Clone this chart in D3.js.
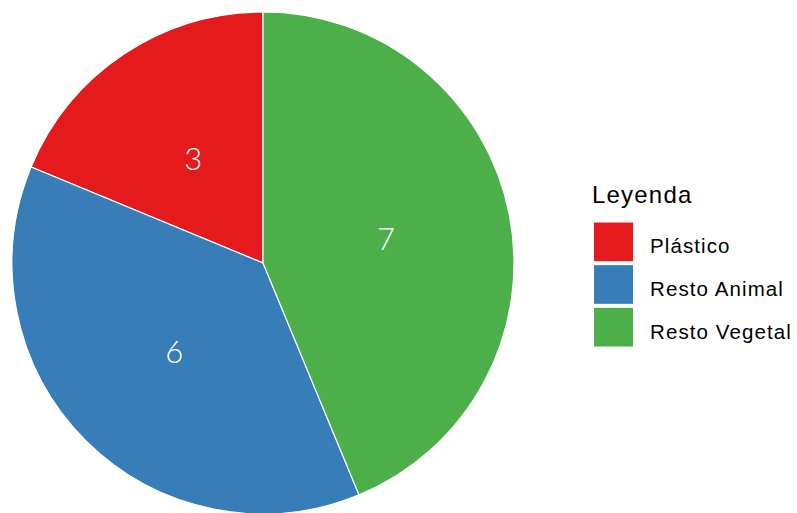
<!DOCTYPE html>
<html>
<head>
<meta charset="utf-8">
<script src="https://cdn.jsdelivr.net/npm/d3@7"></script>
<style>
  html, body { margin: 0; padding: 0; background: #ffffff; }
  svg { display: block; }
</style>
</head>
<body>
<svg id="chart" width="797" height="513"></svg>
<script>
// Waste composition counts
const categories = ["Plástico", "Resto Animal", "Resto Vegetal"];
const counts = [3, 6, 7];
const palette = ["#E41A1C", "#377EB8", "#4DAF4A"];
const legendTitle = "Leyenda";

const width = 797, height = 513;
const cx = 263, cy = 263, radius = 251;

const svg = d3.select("#chart");

const color = d3.scaleOrdinal().domain(categories).range(palette);

const rows = categories.map((c, i) => ({ category: c, value: counts[i] }));

// Slices run counterclockwise from twelve o'clock
const pie = d3.pie()
  .sort(null)
  .value(d => d.value)
  .startAngle(0)
  .endAngle(-2 * Math.PI);

const arc = d3.arc().innerRadius(0).outerRadius(radius);

const g = svg.append("g").attr("transform", `translate(${cx},${cy})`);

const arcs = pie(rows);

g.selectAll("path.slice")
  .data(arcs)
  .join("path")
  .attr("class", "slice")
  .attr("d", arc)
  .attr("fill", d => color(d.data.category))
  .attr("stroke", "#ffffff")
  .attr("stroke-width", 1.2);

// Value labels sit halfway along each slice's mid-angle
g.selectAll("text.value")
  .data(arcs)
  .join("text")
  .attr("class", "value")
  .attr("transform", d => {
    const [x, y] = arc.centroid(d);
    return `translate(${x},${y})`;
  })
  .attr("text-anchor", "middle")
  .attr("dy", "0.36em")
  .attr("fill", "#ffffff")
  .style("font-family", "Lato, 'Liberation Sans', Arial, sans-serif")
  .style("font-weight", 300)
  .style("font-size", "31px")
  .text(d => d.data.value);

// Legend
const legend = svg.append("g").attr("transform", "translate(592,0)");

legend.append("text")
  .attr("x", 0)
  .attr("y", 203)
  .attr("fill", "#000000")
  .style("font-family", "'Liberation Sans', Arial, sans-serif")
  .style("font-size", "24px")
  .style("letter-spacing", "1.2px")
  .text(legendTitle);

const keyY = d3.scaleBand()
  .domain(categories)
  .range([221, 349])
  .paddingInner(0)
  .paddingOuter(0);

const items = legend.selectAll("g.item")
  .data(categories)
  .join("g")
  .attr("class", "item")
  .attr("transform", d => `translate(0,${keyY(d)})`);

items.append("rect")
  .attr("x", 2)
  .attr("y", 1.5)
  .attr("width", 39)
  .attr("height", keyY.bandwidth() - 4)
  .attr("fill", d => color(d));

items.append("text")
  .attr("x", 58)
  .attr("y", keyY.bandwidth() / 2 + 11)
  .attr("fill", "#000000")
  .style("font-family", "'Liberation Sans', Arial, sans-serif")
  .style("font-size", "20.5px")
  .style("letter-spacing", "1.1px")
  .text(d => d);
</script>
</body>
</html>
